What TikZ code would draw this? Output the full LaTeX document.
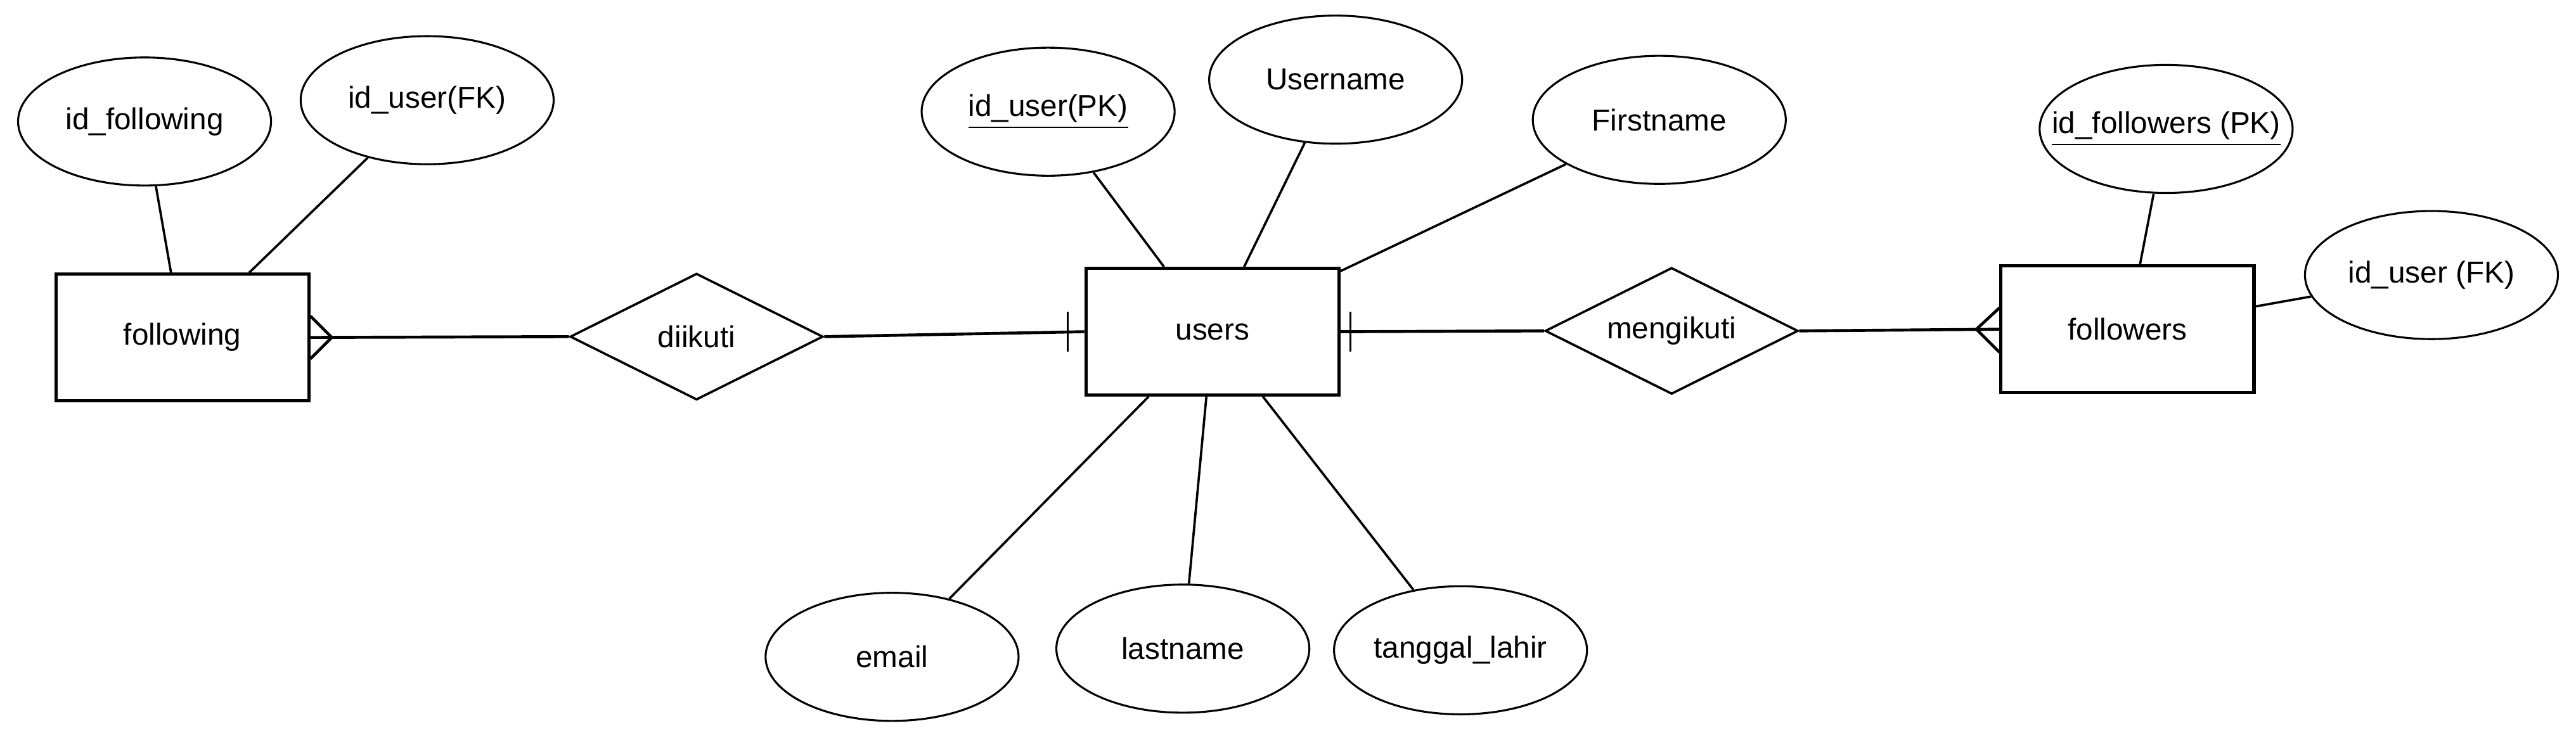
\documentclass[tikz,border=0pt]{standalone}
\usepackage{fontspec}
\setmainfont{Liberation Sans}
\usetikzlibrary{shapes.geometric}

\begin{document}
\begin{tikzpicture} [x=0.5pt, y=-0.5pt]
\tikzstyle{every node}=[font=\fontsize{9.2}{11}\selectfont];
\tikzstyle{entity}=[draw, line width=1pt, minimum width=77pt, minimum height=38.5pt, inner sep=0pt];
\tikzstyle{attr}=[draw, ellipse, line width=0.6pt, minimum width=77pt, minimum height=39pt, inner sep=0pt];
\tikzstyle{rel}=[draw, diamond, aspect=2, line width=0.7pt, minimum width=77pt, minimum height=38.5pt, inner sep=0pt];
\tikzstyle{link}=[line width=0.9pt];
\useasboundingbox (0,0) rectangle (1568,450.6);
% entities and relations
\node [entity] (following) at (111,205.5) {following};
\node [rel] (diikuti) at (424,205) {diikuti};
\node [entity] (users) at (738,202) {users};
\node [rel] (mengikuti) at (1017.5,201.5) {mengikuti};
\node [entity] (followers) at (1295,200.5) {followers};
% attributes
\node [attr] (idfollowing) at (88,74) {\makebox[0pt]{id\_following}};
\node [attr] (iduserfk) at (260,61) {\makebox[0pt]{id\_user(FK)}};
\node [attr] (iduserpk) at (638,68) {\makebox[0pt]{\underline{id\_user(PK)}}};
\node [attr] (username) at (813,48.5) {\makebox[0pt]{Username}};
\node [attr] (firstname) at (1010,73) {\makebox[0pt]{Firstname}};
\node [attr] (email) at (543,400) {\makebox[0pt]{email}};
\node [attr] (lastname) at (720,395) {\makebox[0pt]{lastname}};
\node [attr] (tanggal) at (889,396) {\makebox[0pt]{tanggal\_lahir}};
\node [attr] (idfollowers) at (1318.5,78.5) {\makebox[0pt]{\underline{id\_followers (PK)}}};
\node [attr] (iduserfk2) at (1480,167.5) {\makebox[0pt]{id\_user (FK)}};
\draw [line width=0.7pt] (idfollowing) -- (following)
(iduserfk) -- (following)
(iduserpk) -- (users)
(username) -- (users)
(firstname) -- (users)
(email) -- (users)
(lastname) -- (users)
(tanggal) -- (users)
(idfollowers) -- (followers)
(iduserfk2) -- (followers);
% relationship lines
\draw [link] (following.east) -- (diikuti.west)
(diikuti.east) -- (users.west)
(users.east) -- (mengikuti.west)
(mengikuti.east) -- (followers.west);
% crow's feet and bars
\draw [link] ([yshift=6.5pt]following.east) -- ([xshift=6.5pt]following.east) -- ([yshift=-6.5pt]following.east);
\draw [link] ([yshift=6.5pt]followers.west) -- ([xshift=-7pt]followers.west) -- ([yshift=-7pt]followers.west);
\draw [line width=0.6pt] ([xshift=-5pt,yshift=6pt]users.west) -- ([xshift=-5pt,yshift=-6pt]users.west);
\draw [line width=0.6pt] ([xshift=3pt,yshift=6pt]users.east) -- ([xshift=3pt,yshift=-6pt]users.east);
\end{tikzpicture}
\end{document}
